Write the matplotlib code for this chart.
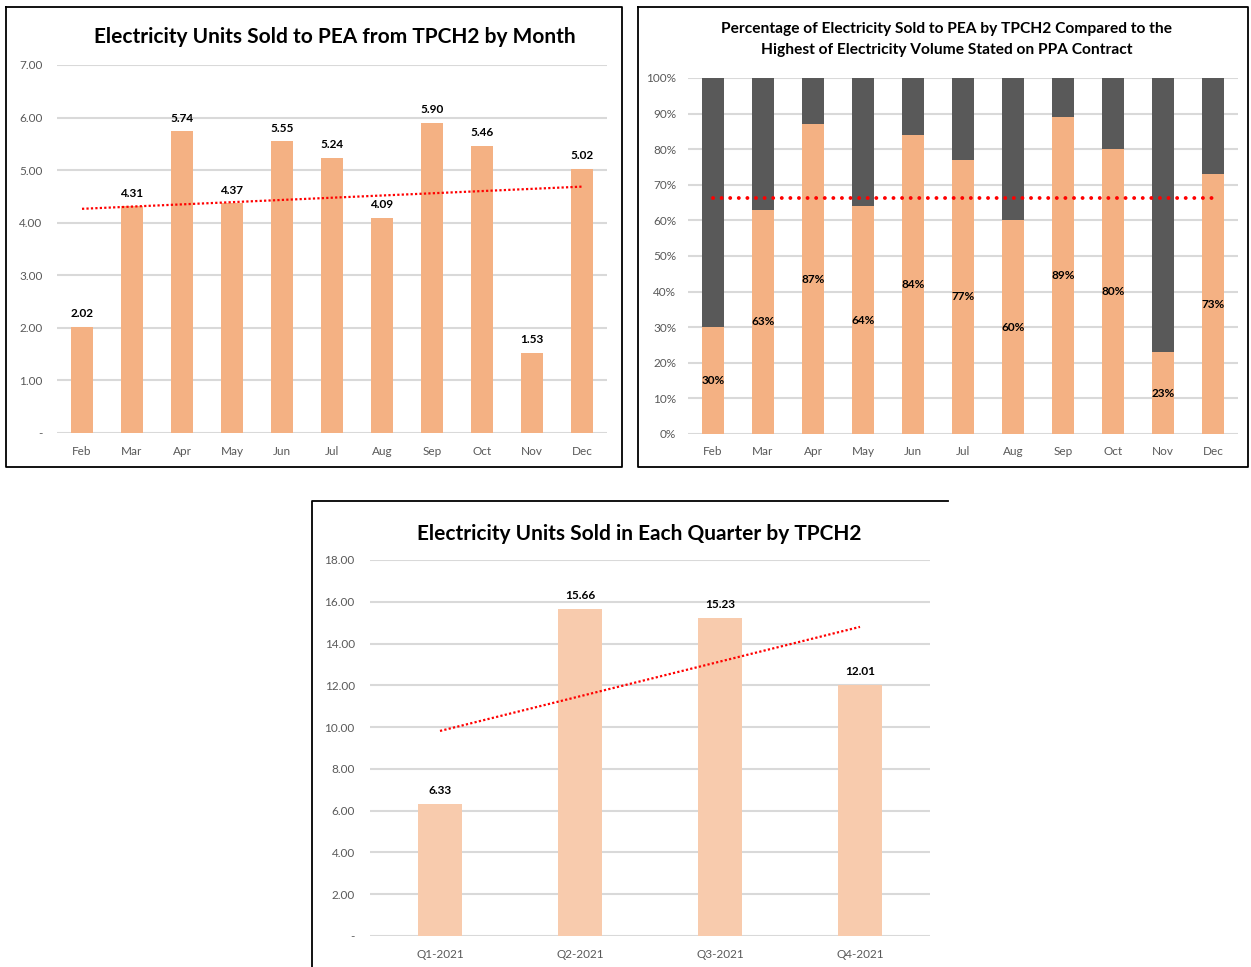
import matplotlib
matplotlib.use("Agg")
import matplotlib.pyplot as plt
from matplotlib.lines import Line2D
import numpy as np

plt.rcParams['font.family'] = ['Lato', 'DejaVu Sans']

# data
months = ['Feb', 'Mar', 'Apr', 'May', 'Jun', 'Jul', 'Aug', 'Sep', 'Oct', 'Nov', 'Dec']
units_month = [2.02, 4.31, 5.74, 4.37, 5.55, 5.24, 4.09, 5.90, 5.46, 1.53, 5.02]
pct_ppa = [0.30, 0.63, 0.87, 0.64, 0.84, 0.77, 0.60, 0.89, 0.80, 0.23, 0.73]
quarters = ['Q1-2021', 'Q2-2021', 'Q3-2021', 'Q4-2021']
units_quarter = [6.33, 15.66, 15.23, 12.01]

ORANGE = '#F4B183'
LIGHT = '#F8CBAD'
DARK = '#595959'
GRID = '#D9D9D9'
TICK = '#595959'

W, H = 1251, 967
fig = plt.figure(figsize=(W / 100, H / 100), dpi=100)


def px_axes(x0, x1, y_top, y_bot):
    return fig.add_axes([x0 / W, 1 - y_bot / H, (x1 - x0) / W, (y_bot - y_top) / H])


def style(ax):
    for s in ax.spines.values():
        s.set_visible(False)
    ax.yaxis.grid(True, color=GRID, linewidth=1.5)
    ax.set_axisbelow(True)
    ax.tick_params(length=0, colors=TICK, labelsize=8.5)


def acct(v):
    return '-' if v == 0 else f'{v:.2f}'


# panel 1 - monthly units
ax1 = px_axes(57, 607, 65, 433)
style(ax1)
x = np.arange(len(months))
ax1.bar(x, units_month, width=0.43, color=ORANGE, zorder=2)
for xi, v in zip(x, units_month):
    ax1.annotate(f'{v:.2f}', (xi, v), xytext=(0, 5.5), textcoords='offset points',
                 ha='center', va='bottom', fontsize=8.5, fontweight='bold')
k, b = np.polyfit(x, units_month, 1)
ax1.plot(x[[0, -1]], k * x[[0, -1]] + b, color='red', lw=1.6, ls=(0, (1, 1)), zorder=3)
ax1.set_xlim(-0.5, len(months) - 0.5)
ax1.set_ylim(0, 7)
ax1.set_yticks(np.arange(0, 8))
ax1.set_yticklabels([acct(v) for v in range(8)])
ax1.set_xticks(x)
ax1.set_xticklabels(months)
ax1.tick_params(axis='y', pad=10.5)
ax1.tick_params(axis='x', pad=9.5)
ax1.set_title('Electricity Units Sold to PEA from TPCH2 by Month', fontsize=15,
              fontweight='bold', pad=16, x=0.505)

# panel 2 - percent of PPA max
ax2 = px_axes(688, 1238, 78, 434)
style(ax2)
rest = [1 - p for p in pct_ppa]
ax2.bar(x, pct_ppa, width=0.43, color=ORANGE, zorder=2)
ax2.bar(x, rest, bottom=pct_ppa, width=0.43, color=DARK, zorder=2)
for xi, p in zip(x, pct_ppa):
    ax2.text(xi, p / 2, f'{p:.0%}', ha='center', va='center', fontsize=8.5,
             fontweight='bold', zorder=4)
avg = np.mean(pct_ppa)
ax2.plot([x[0], x[-1]], [avg, avg], color='red', lw=2.8, ls=(0, (0.01, 2.2)),
         dash_capstyle='round', zorder=3)
ax2.set_xlim(-0.5, len(months) - 0.5)
ax2.set_ylim(0, 1)
ax2.set_yticks(np.linspace(0, 1, 11))
ax2.set_yticklabels([f'{int(round(t * 100))}%' for t in np.linspace(0, 1, 11)])
ax2.set_xticks(x)
ax2.set_xticklabels(months)
ax2.tick_params(axis='y', pad=8.5)
ax2.tick_params(axis='x', pad=9)
ax2.set_title('Percentage of Electricity Sold to PEA by TPCH2 Compared to the\n'
              'Highest of Electricity Volume Stated on PPA Contract', fontsize=11.2,
              fontweight='bold', pad=17.5, x=0.47, linespacing=1.6)

# panel 3 - quarterly units
ax3 = px_axes(370, 930, 560, 936)
style(ax3)
xq = np.arange(len(quarters))
ax3.bar(xq, units_quarter, width=0.31, color=LIGHT, zorder=2)
for xi, v in zip(xq, units_quarter):
    ax3.annotate(f'{v:.2f}', (xi, v), xytext=(0, 5.5), textcoords='offset points',
                 ha='center', va='bottom', fontsize=8.5, fontweight='bold')
k, b = np.polyfit(xq, units_quarter, 1)
ax3.plot(xq[[0, -1]], k * xq[[0, -1]] + b, color='red', lw=1.6, ls=(0, (1, 1)), zorder=3)
ax3.set_xlim(-0.5, len(quarters) - 0.5)
ax3.set_ylim(0, 18)
ax3.set_yticks(np.arange(0, 19, 2))
ax3.set_yticklabels([acct(v) for v in range(0, 19, 2)])
ax3.set_xticks(xq)
ax3.set_xticklabels(quarters)
ax3.tick_params(axis='y', pad=11)
ax3.tick_params(axis='x', pad=9.5)
ax3.set_title('Electricity Units Sold in Each Quarter by TPCH2', fontsize=15,
              fontweight='bold', pad=14.5, x=0.48)


# panel borders
def fline(xs, ys):
    fig.add_artist(Line2D([v / W for v in xs], [1 - v / H for v in ys],
                          color='black', lw=1.3))


fline([6, 622, 622, 6, 6], [7, 7, 467, 467, 7])
fline([638, 1248, 1248, 638, 638], [7, 7, 467, 467, 7])
fline([312, 312, 948], [967, 501, 501])

fig.savefig('out.png', dpi=100)
